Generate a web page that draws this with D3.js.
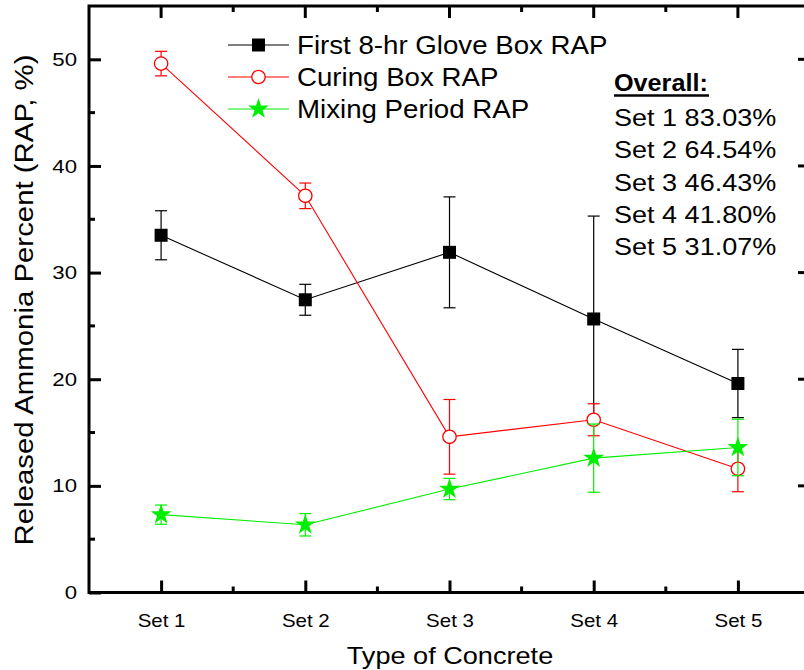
<!DOCTYPE html>
<html>
<head>
<meta charset="utf-8">
<script src="https://cdn.jsdelivr.net/npm/d3@7"></script>
<style>
  body { margin: 0; background: #fff; }
  svg { display: block; font-family: "Liberation Sans", Arial, sans-serif; }
</style>
</head>
<body>
<svg id="chart" width="804" height="670"></svg>
<script>
// Category labels along the x axis
const categories = ["Set 1", "Set 2", "Set 3", "Set 4", "Set 5"];

// Released ammonia percent per set (mean and error half-width)
const gloveBox = [33.5, 27.45, 31.9, 25.65, 19.6];
const gloveBoxErr = [2.3, 1.45, 5.2, 9.65, 3.2];
const curingBox = [49.6, 37.2, 14.6, 16.2, 11.6];
const curingBoxErr = [1.15, 1.2, 3.5, 1.5, 2.15];
const mixing = [7.3, 6.35, 9.7, 12.6, 13.6];
const mixingErr = [0.9, 1.05, 1.0, 3.2, 2.65];

// Y axis tick values
const yTicks = [0, 10, 20, 30, 40, 50];
const yMinorTicks = [5, 15, 25, 35, 45];

// Overall release summary
const overallTitle = "Overall:";
const overallLines = ["Set 1 83.03%", "Set 2 64.54%", "Set 3 46.43%", "Set 4 41.80%", "Set 5 31.07%"];

const series = [
  { name: "First 8-hr Glove Box RAP", values: gloveBox, err: gloveBoxErr, color: "#000000", symbol: "square" },
  { name: "Curing Box RAP", values: curingBox, err: curingBoxErr, color: "#ff0000", symbol: "circle" },
  { name: "Mixing Period RAP", values: mixing, err: mixingErr, color: "#00ee00", symbol: "star" }
];

const svg = d3.select("#chart");
const plotL = 89, plotR = 810, plotT = 6, plotB = 592.5;

const x = d3.scaleLinear().domain([0.5, 5.5]).range([plotL, plotR]);
const y = d3.scaleLinear().domain([0, 55]).range([plotB, plotT]);

// Text drawn slightly wide, anchored at (tx, ty)
function wideText(parent, tx, ty, str, size, sx, anchor) {
  return parent.append("text")
    .attr("transform", `translate(${tx},${ty}) scale(${sx},1)`)
    .attr("text-anchor", anchor || "start")
    .attr("font-size", size).attr("fill", "#000").text(str);
}

function drawMarker(g, type, cx, cy, color) {
  if (type === "square") {
    g.append("rect").attr("x", cx - 6.5).attr("y", cy - 6.5).attr("width", 13).attr("height", 13)
      .attr("fill", color);
  } else if (type === "circle") {
    g.append("circle").attr("cx", cx).attr("cy", cy).attr("r", 6.7)
      .attr("fill", "#fff").attr("stroke", color).attr("stroke-width", 1.3);
  } else {
    g.append("path").attr("d", d3.symbol(d3.symbolStar, 135)())
      .attr("transform", `translate(${cx},${cy})`).attr("fill", color);
  }
}

// Series: connecting line, error bars, markers
series.forEach(s => {
  const g = svg.append("g");
  const line = d3.line().x((d, i) => x(i + 1)).y(d => y(d));
  g.append("path").datum(s.values).attr("d", line)
    .attr("fill", "none").attr("stroke", s.color).attr("stroke-width", 1.1);
  s.values.forEach((v, i) => {
    const cx = x(i + 1);
    const y1 = y(v + s.err[i]), y2 = y(v - s.err[i]);
    g.append("line").attr("x1", cx).attr("x2", cx).attr("y1", y1).attr("y2", y2)
      .attr("stroke", s.color).attr("stroke-width", 1.2);
    [y1, y2].forEach(yy => g.append("line").attr("x1", cx - 6).attr("x2", cx + 6)
      .attr("y1", yy).attr("y2", yy).attr("stroke", s.color).attr("stroke-width", 1.2));
    drawMarker(g, s.symbol, cx, y(v), s.color);
  });
});

// Frame and axes
const axisW = 3;
const sxTick = 1.17;
const bottomAxis = d3.axisBottom(x).tickValues([1, 2, 3, 4, 5]).tickFormat((d, i) => categories[i])
  .tickSizeInner(-12).tickSizeOuter(0).tickPadding(22);
const gb = svg.append("g").attr("transform", `translate(0,${plotB})`).call(bottomAxis);
gb.selectAll("text").attr("font-size", 17.5).attr("fill", "#000")
  .attr("transform", `scale(${sxTick},1)`);
const minorX = [1.5, 2.5, 3.5, 4.5];
const yPad = 12;
const leftAxis = d3.axisLeft(y).tickValues(yTicks).tickSizeInner(-12).tickSizeOuter(0).tickPadding(yPad);
const gl = svg.append("g").attr("transform", `translate(${plotL},0)`).call(leftAxis);
gl.selectAll("text").attr("font-size", 19).attr("fill", "#000")
  .attr("x", -yPad / sxTick).attr("transform", `scale(${sxTick},1)`);
[gb, gl].forEach(a => {
  a.select(".domain").remove();
  a.selectAll(".tick line").attr("stroke", "#000").attr("stroke-width", axisW);
  a.selectAll("text").attr("font-family", "Liberation Sans, Arial, sans-serif");
});

const ticks = svg.append("g").attr("stroke", "#000").attr("stroke-width", axisW);
// top mirrored ticks
[1, 2, 3, 4, 5].forEach(v => ticks.append("line").attr("x1", x(v)).attr("x2", x(v)).attr("y1", plotT).attr("y2", plotT + 12));
minorX.forEach(v => {
  ticks.append("line").attr("x1", x(v)).attr("x2", x(v)).attr("y1", plotT).attr("y2", plotT + 6);
  ticks.append("line").attr("x1", x(v)).attr("x2", x(v)).attr("y1", plotB).attr("y2", plotB - 6);
});
// right mirrored ticks
yTicks.forEach(v => ticks.append("line").attr("x1", plotR).attr("x2", plotR - 12).attr("y1", y(v)).attr("y2", y(v)));
yMinorTicks.forEach(v => {
  ticks.append("line").attr("x1", plotL).attr("x2", plotL + 6).attr("y1", y(v)).attr("y2", y(v));
  ticks.append("line").attr("x1", plotR).attr("x2", plotR - 6).attr("y1", y(v)).attr("y2", y(v));
});
svg.append("rect").attr("x", plotL).attr("y", plotT).attr("width", plotR - plotL).attr("height", plotB - plotT)
  .attr("fill", "none").attr("stroke", "#000").attr("stroke-width", axisW);

// Axis titles
wideText(svg, 450, 664, "Type of Concrete", 24, 1.13, "middle");
svg.append("text").attr("transform", `translate(33,300) rotate(-90) scale(1.13,1)`)
  .attr("text-anchor", "middle").attr("font-size", 26).attr("fill", "#000")
  .text("Released Ammonia Percent (RAP, %)");

// Legend
const legend = svg.append("g");
series.forEach((s, i) => {
  const ly = 45 + i * 32;
  legend.append("line").attr("x1", 228).attr("x2", 289).attr("y1", ly).attr("y2", ly)
    .attr("stroke", s.color).attr("stroke-width", 1.1);
  drawMarker(legend, s.symbol, 258.5, ly, s.color);
  wideText(legend, 297, ly + 9, s.name, 25.5, 1.085);
});

// Overall summary block
const ov = svg.append("g");
wideText(ov, 614, 91, overallTitle, 24, 1.05).attr("font-weight", "bold");
ov.append("line").attr("x1", 614).attr("x2", 709).attr("y1", 95.5).attr("y2", 95.5)
  .attr("stroke", "#000").attr("stroke-width", 2.5);
overallLines.forEach((t, i) => wideText(ov, 614, 126 + i * 32.3, t, 24, 1.127));
</script>
</body>
</html>
